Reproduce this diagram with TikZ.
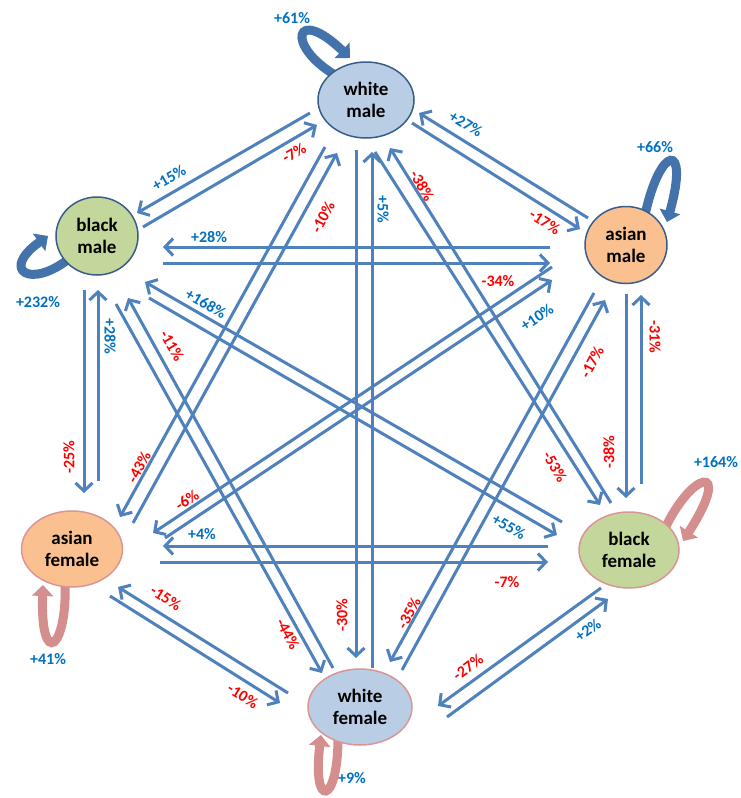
\documentclass[tikz,border=0pt]{standalone}
\usepackage{fontspec}
\setmainfont{Carlito}
\usetikzlibrary{arrows.meta,shapes.geometric,backgrounds}
\definecolor{arrowblue}{HTML}{4F81BD}
\definecolor{labblue}{HTML}{0070C0}
\definecolor{labred}{HTML}{FF0000}
\definecolor{nwhite}{HTML}{B9CDE5}
\definecolor{ngreen}{HTML}{C3D69B}
\definecolor{norange}{HTML}{FAC090}
\definecolor{mline}{HTML}{385D8A}
\definecolor{fline}{HTML}{D99694}
\definecolor{loopblue}{HTML}{4472AA}
\definecolor{looppink}{HTML}{D48E8D}
\newcommand\arrowlink[4]{\draw[arr] ([shift={#2}]#1.center) -- ([shift={#4}]#3.center);}
\begin{document}
\begin{tikzpicture}[x=1pt,y=-1pt,
 person/.style={ellipse, line width=1.5pt, inner sep=0pt, align=center,
   font=\fontsize{19}{22}\selectfont\bfseries},
 arr/.style={draw=arrowblue, line width=3pt, -{Straight Barb[length=8pt,width=17pt]}},
 gain/.style={font=\fontsize{16}{16}\selectfont\bfseries, text=labblue, inner sep=0pt},
 loss/.style={font=\fontsize{16}{16}\selectfont\bfseries, text=labred, inner sep=0pt},
 ribbon/.style={line width=9pt, -{Triangle[length=11pt,width=21pt]}},
]
\useasboundingbox (0,0) rectangle (740,798);

% nodes
\node[person, fill=nwhite, draw=mline, minimum width=96pt, minimum height=76pt] (wm) at (366,100) {white\\male};
\node[person, fill=ngreen, draw=mline, minimum width=82pt, minimum height=78pt] (bm) at (97,236) {black\\male};
\node[person, fill=norange, draw=mline, minimum width=82pt, minimum height=77pt] (am) at (626,245) {asian\\male};
\node[person, fill=norange, draw=fline, minimum width=101pt, minimum height=76pt] (af) at (72,549) {asian\\female};
\node[person, fill=ngreen, draw=fline, minimum width=100pt, minimum height=76pt] (bf) at (629,550) {black\\female};
\node[person, fill=nwhite, draw=fline, minimum width=104pt, minimum height=76pt] (wf) at (360,707) {white\\female};

% self loops
\begin{pgfonlayer}{background}
\draw[ribbon, loopblue, shift={(wm.center)}] (-31,-25) .. controls (-81,-55) and (-71,-95) .. (-16,-42);
\draw[ribbon, loopblue, shift={(am.center)}] (19,-30) .. controls (34,-100) and (64,-105) .. (41,-23);
\draw[ribbon, loopblue, shift={(bm.center)}] (-27,22) .. controls (-67,54) and (-97,34) .. (-49,0);
\draw[ribbon, looppink, shift={(bf.center)}] (33,-15) .. controls (61,-80) and (106,-90) .. (54,-9);
\draw[ribbon, looppink, shift={(af.center)}] (-7,31) .. controls (-4,101) and (-32,121) .. (-29,36);
\draw[ribbon, looppink, shift={(wf.center)}] (-22,31) .. controls (-22,98) and (-48,103) .. (-39,28);
\end{pgfonlayer}

% connectors
\arrowlink{wm}{(-56,13)}{bm}{(40,-23)}
\arrowlink{bm}{(46,-9)}{wm}{(-49,25)}
\arrowlink{am}{(-38,-27)}{wm}{(53,13)}
\arrowlink{wm}{(46,23)}{am}{(-46,-16)}
\arrowlink{bm}{(-13,54)}{af}{(12,-56)}
\arrowlink{af}{(26,-68)}{bm}{(1,54)}
\arrowlink{am}{(0,49)}{bf}{(-3,-52)}
\arrowlink{bf}{(12,-66)}{am}{(15,50)}
\arrowlink{wf}{(-72,-14)}{af}{(46,38)}
\arrowlink{af}{(38,47)}{wf}{(-80,-4)}
\arrowlink{bf}{(-28,38)}{wf}{(78,-1)}
\arrowlink{wf}{(87,10)}{bf}{(-21,49)}
\arrowlink{wm}{(-10,50)}{wf}{(-4,-49)}
\arrowlink{wf}{(12,-39)}{wm}{(6,52)}
\arrowlink{am}{(-76,2)}{bm}{(66,11)}
\arrowlink{bm}{(66,27)}{am}{(-76,18)}
\arrowlink{bf}{(-81,-4)}{af}{(91,-3)}
\arrowlink{af}{(88,13)}{bf}{(-81,12)}
\arrowlink{bf}{(-67,-28)}{bm}{(48,46)}
\arrowlink{bm}{(52,62)}{bf}{(-72,-15)}
\arrowlink{am}{(-74,22)}{af}{(81,-16)}
\arrowlink{af}{(93,-11)}{am}{(-74,35)}
\arrowlink{wm}{(-41,47)}{af}{(48,-32)}
\arrowlink{af}{(61,-26)}{wm}{(-29,53)}
\arrowlink{bf}{(-18,-47)}{wm}{(24,48)}
\arrowlink{wm}{(9,52)}{bf}{(-29,-45)}
\arrowlink{bm}{(19,68)}{wf}{(-38,-34)}
\arrowlink{wf}{(-27,-39)}{bm}{(31,62)}
\arrowlink{am}{(-32,48)}{wf}{(30,-45)}
\arrowlink{wf}{(42,-37)}{am}{(-21,55)}

% labels
\node[gain] (l61) at (292,18) {+61\%};
\node[gain] (l66) at (655,147) {+66\%};
\node[gain] (l232) at (38,302) {+232\%};
\node[gain] (l164) at (716,462) {+164\%};
\node[gain] (l41) at (48,659) {+41\%};
\node[gain] (l9) at (352,778) {+9\%};
\node[gain, rotate=30] (l15) at (169,178) {+15\%};
\node[loss, rotate=30] (l7a) at (294,153) {-7\%};
\node[gain, rotate=-32] (l27) at (466,124) {+27\%};
\node[loss, rotate=-32] (l17a) at (545,222) {-17\%};
\node[loss, rotate=62] (l10a) at (323,217) {-10\%};
\node[gain] (l28a) at (209,237) {+28\%};
\node[loss, rotate=-60] (l38a) at (422,186) {-38\%};
\node[gain, rotate=-90] (l5) at (383,209) {+5\%};
\node[loss] (l34) at (498,281) {-34\%};
\node[gain, rotate=34] (l10b) at (537,317) {+10\%};
\node[gain, rotate=-30] (l168) at (206,304) {+168\%};
\node[gain, rotate=-90] (l28b) at (110,336) {+28\%};
\node[loss, rotate=-60] (l11) at (172,346) {-11\%};
\node[loss, rotate=90] (l25) at (69,457) {-25\%};
\node[loss, rotate=62] (l43) at (139,467) {-43\%};
\node[loss, rotate=34] (l6) at (187,500) {-6\%};
\node[gain] (l4) at (202,534) {+4\%};
\node[gain, rotate=-30] (l55) at (509,527) {+55\%};
\node[loss] (l7b) at (507,582) {-7\%};
\node[loss, rotate=90] (l30) at (342,615) {-30\%};
\node[loss, rotate=62] (l35) at (409,613) {-35\%};
\node[loss, rotate=-62] (l44) at (288,634) {-44\%};
\node[loss, rotate=-60] (l53) at (555,467) {-53\%};
\node[loss, rotate=62] (l17b) at (592,362) {-17\%};
\node[loss, rotate=-90] (l31) at (655,337) {-31\%};
\node[loss, rotate=90] (l38b) at (609,452) {-38\%};
\node[loss, rotate=-32] (l15b) at (166,598) {-15\%};
\node[loss, rotate=-32] (l10c) at (243,696) {-10\%};
\node[loss, rotate=36] (l27b) at (468,667) {-27\%};
\node[gain, rotate=36] (l2) at (588,630) {+2\%};
\end{tikzpicture}
\end{document}
